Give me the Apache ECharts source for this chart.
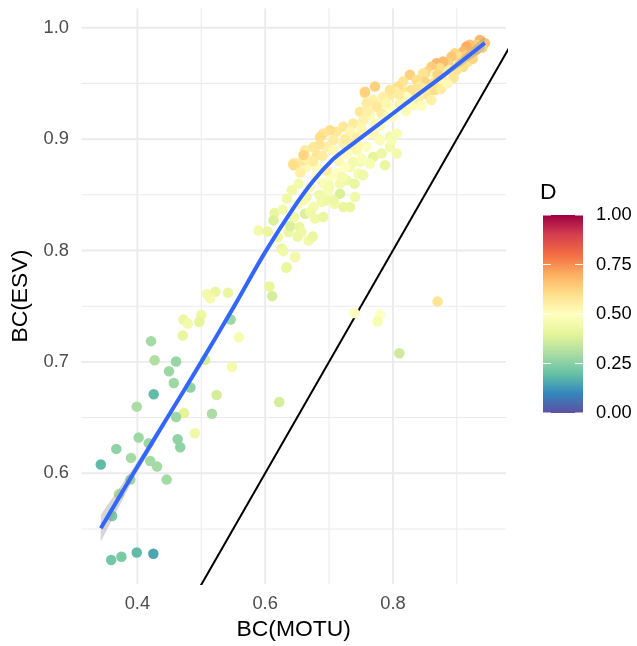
<!DOCTYPE html>
<html>
<head>
<meta charset="utf-8">
<script src="https://cdn.jsdelivr.net/npm/echarts@6/dist/echarts.min.js"></script>
<style>
  html, body { margin: 0; padding: 0; background: #ffffff; }
  #chart { width: 637px; height: 646px; }
</style>
</head>
<body>
<div id="chart"></div>
<script>
// Bray-Curtis similarity: OTU-based (MOTU) vs ESV-based, coloured by D
const bc_motu = [
  0.6067, 0.611, 0.509, 0.522, 0.514, 0.542, 0.472, 0.479, 0.5, 0.497,
  0.546, 0.471, 0.559, 0.4214, 0.7395, 0.78, 0.776, 0.87, 0.81, 0.427,
  0.4605, 0.506, 0.548, 0.4495, 0.457, 0.483, 0.4255, 0.524, 0.622, 0.399,
  0.473, 0.4605, 0.5167, 0.49, 0.402, 0.4177, 0.463, 0.467, 0.367, 0.39,
  0.3427, 0.42, 0.4308, 0.389, 0.4458, 0.371, 0.3605, 0.359, 0.375, 0.399, 0.425,
  0.5896, 0.604, 0.6145, 0.613, 0.6276, 0.6365, 0.639, 0.6536, 0.657, 0.651,
  0.668, 0.6745, 0.626, 0.6468, 0.634, 0.6523, 0.6417, 0.634, 0.652, 0.67,
  0.665, 0.6625, 0.678, 0.691, 0.6755, 0.6886, 0.699, 0.6964, 0.717, 0.709,
  0.7224, 0.733, 0.7406, 0.691, 0.7016, 0.717, 0.7276, 0.7458, 0.7536, 0.712,
  0.7328, 0.7484, 0.644, 0.665, 0.681, 0.6964, 0.66, 0.6703, 0.7068, 0.6286,
  0.6328, 0.647,
  0.7719, 0.756, 0.816, 0.8266, 0.8058, 0.7953, 0.8214, 0.8344, 0.7692, 0.7849,
  0.7745, 0.7589, 0.7484, 0.7641, 0.7823, 0.7953, 0.811, 0.7536, 0.7719, 0.738,
  0.7224, 0.733, 0.7432, 0.7589, 0.712, 0.7016, 0.691, 0.7068, 0.7224, 0.6964,
  0.6755, 0.6625, 0.681, 0.665, 0.6495, 0.7068, 0.7432, 0.7589, 0.7797, 0.7953,
  0.8058, 0.7953, 0.8058, 0.7875, 0.7692, 0.7276, 0.738, 0.7641, 0.7511, 0.6443,
  0.66, 0.686, 0.7562, 0.7823, 0.798,
  0.9438, 0.936, 0.9308, 0.9203, 0.915, 0.9255, 0.91, 0.897, 0.9047, 0.8917,
  0.9177, 0.9047, 0.8864, 0.8786, 0.8683, 0.8734, 0.8605, 0.889, 0.855, 0.8473,
  0.8656, 0.876, 0.8786, 0.863, 0.85, 0.837, 0.8422, 0.829, 0.816, 0.8083,
  0.803, 0.7953, 0.8214, 0.8136, 0.8317, 0.7849, 0.79, 0.8396, 0.855, 0.8656,
  0.8, 0.82, 0.845, 0.86, 0.875, 0.895, 0.91, 0.925, 0.885, 0.77,
  0.78, 0.745, 0.725, 0.715, 0.735, 0.69, 0.68, 0.7, 0.76, 0.79,
  0.81, 0.835, 0.85, 0.87, 0.9, 0.915, 0.93, 0.94, 0.725, 0.75,
  0.655, 0.675, 0.685, 0.62, 0.645, 0.66, 0.685, 0.72, 0.74
];
const bc_esv = [
  0.7676, 0.759, 0.761, 0.763, 0.757, 0.762, 0.738, 0.7345, 0.742, 0.736,
  0.738, 0.7237, 0.722, 0.7186, 0.7439, 0.7423, 0.7363, 0.7543, 0.7078, 0.7015,
  0.7003, 0.7018, 0.6955, 0.6916, 0.681, 0.677, 0.671, 0.6703, 0.664, 0.6598,
  0.654, 0.6505, 0.6534, 0.636, 0.632, 0.627, 0.6306, 0.6234, 0.6219, 0.6138,
  0.6078, 0.611, 0.606, 0.5943, 0.5943, 0.5814, 0.5616, 0.5222, 0.525, 0.5288, 0.5277,
  0.818, 0.817, 0.8336, 0.827, 0.8367, 0.8165, 0.8219, 0.821, 0.8165, 0.8126,
  0.809, 0.8126, 0.8015, 0.794, 0.785, 0.86, 0.854, 0.8466, 0.842, 0.857,
  0.848, 0.833, 0.8286, 0.83, 0.839, 0.8435, 0.854, 0.845, 0.851, 0.842,
  0.839, 0.839, 0.848, 0.86, 0.866, 0.86, 0.863, 0.869, 0.8676, 0.869,
  0.875, 0.8796, 0.878, 0.875, 0.875, 0.872, 0.881, 0.8345, 0.845, 0.7994,
  0.7844, 0.7946,
  0.9471, 0.941, 0.9516, 0.9577, 0.9457, 0.9396, 0.9426, 0.941, 0.935, 0.9336,
  0.929, 0.9321, 0.9246, 0.9216, 0.9231, 0.929, 0.932, 0.917, 0.914, 0.914,
  0.911, 0.9066, 0.902, 0.905, 0.9066, 0.908, 0.905, 0.899, 0.896, 0.893,
  0.893, 0.89, 0.8856, 0.8826, 0.878, 0.89, 0.89, 0.893, 0.899, 0.902,
  0.905, 0.893, 0.887, 0.8766, 0.884, 0.887, 0.8796, 0.878, 0.8826, 0.8766,
  0.8856, 0.902, 0.9426, 0.887, 0.899,
  0.9862, 0.989, 0.9847, 0.9847, 0.983, 0.977, 0.9787, 0.977, 0.974, 0.974,
  0.9697, 0.968, 0.968, 0.9697, 0.968, 0.9637, 0.965, 0.962, 0.9606, 0.9592,
  0.9577, 0.9547, 0.9486, 0.95, 0.9516, 0.953, 0.9471, 0.944, 0.9516, 0.9471,
  0.9426, 0.944, 0.9381, 0.9336, 0.9306, 0.9381, 0.932, 0.9367, 0.9396, 0.944,
  0.92, 0.925, 0.93, 0.935, 0.945, 0.955, 0.965, 0.972, 0.95, 0.905,
  0.912, 0.895, 0.875, 0.88, 0.895, 0.885, 0.865, 0.858, 0.925, 0.92,
  0.94, 0.945, 0.945, 0.958, 0.962, 0.975, 0.98, 0.982, 0.9, 0.91,
  0.87, 0.88, 0.895, 0.812, 0.83, 0.845, 0.85, 0.866, 0.86
];
const d_value = [
  0.41, 0.37, 0.45, 0.42, 0.45, 0.42, 0.43, 0.45, 0.43, 0.4,
  0.28, 0.41, 0.46, 0.29, 0.5, 0.5, 0.47, 0.58, 0.36, 0.31,
  0.27, 0.37, 0.45, 0.28, 0.28, 0.26, 0.19, 0.37, 0.37, 0.3,
  0.4, 0.28, 0.3, 0.44, 0.28, 0.28, 0.26, 0.26, 0.26, 0.29,
  0.19, 0.29, 0.29, 0.28, 0.29, 0.32, 0.23, 0.22, 0.23, 0.19, 0.15,
  0.45, 0.42, 0.42, 0.38, 0.45, 0.42, 0.38, 0.42, 0.44, 0.43,
  0.45, 0.42, 0.42, 0.42, 0.43, 0.45, 0.44, 0.44, 0.47, 0.47,
  0.45, 0.38, 0.44, 0.42, 0.46, 0.45, 0.47, 0.44, 0.38, 0.45,
  0.42, 0.41, 0.44, 0.48, 0.5, 0.45, 0.44, 0.46, 0.44, 0.5,
  0.47, 0.45, 0.57, 0.52, 0.5, 0.55, 0.58, 0.44, 0.43, 0.44,
  0.42, 0.45,
  0.63, 0.58, 0.52, 0.63, 0.57, 0.56, 0.58, 0.55, 0.55, 0.54,
  0.57, 0.56, 0.57, 0.48, 0.56, 0.5, 0.55, 0.54, 0.52, 0.56,
  0.57, 0.53, 0.55, 0.5, 0.57, 0.6, 0.58, 0.56, 0.54, 0.55,
  0.57, 0.56, 0.58, 0.55, 0.57, 0.52, 0.47, 0.5, 0.48, 0.45,
  0.47, 0.45, 0.45, 0.42, 0.4, 0.5, 0.45, 0.47, 0.48, 0.6,
  0.62, 0.6, 0.63, 0.43, 0.47,
  0.66, 0.68, 0.64, 0.66, 0.7, 0.6, 0.68, 0.62, 0.6, 0.65,
  0.58, 0.62, 0.63, 0.67, 0.68, 0.6, 0.64, 0.55, 0.62, 0.58,
  0.52, 0.58, 0.52, 0.6, 0.62, 0.6, 0.57, 0.6, 0.58, 0.6,
  0.55, 0.58, 0.5, 0.52, 0.48, 0.55, 0.53, 0.55, 0.58, 0.6,
  0.5, 0.48, 0.5, 0.55, 0.56, 0.58, 0.6, 0.62, 0.52, 0.52,
  0.5, 0.52, 0.5, 0.52, 0.55, 0.56, 0.5, 0.46, 0.55, 0.52,
  0.56, 0.58, 0.56, 0.62, 0.58, 0.64, 0.66, 0.62, 0.56, 0.53,
  0.55, 0.56, 0.58, 0.43, 0.44, 0.46, 0.44, 0.46, 0.42
];

// LOESS fit with its confidence band
const loess_x  = [0.3427, 0.3938, 0.447, 0.5, 0.552, 0.6, 0.6442, 0.6755, 0.7067, 0.7277, 0.7589, 0.8005, 0.8317, 0.8839, 0.9438];
const loess_y  = [0.5507, 0.6, 0.65, 0.7, 0.7505, 0.7985, 0.838, 0.8625, 0.8822, 0.8916, 0.9051, 0.9232, 0.9367, 0.9592, 0.9862];
const loess_lo = [0.5387, 0.595, 0.647, 0.698, 0.7485, 0.7965, 0.836, 0.8605, 0.8802, 0.8896, 0.9031, 0.9212, 0.9347, 0.9567, 0.9802];
const loess_hi = [0.5627, 0.605, 0.653, 0.702, 0.7525, 0.8005, 0.840, 0.8645, 0.8842, 0.8936, 0.9071, 0.9252, 0.9387, 0.9617, 0.9922];

// 1:1 reference line
const identity_ends = [0.45, 1.05];

// Axis breaks
const x_major = [0.4, 0.6, 0.8];
const x_minor = [0.5, 0.7, 0.9];
const y_major = [0.6, 0.7, 0.8, 0.9, 1.0];
const y_minor = [0.55, 0.65, 0.75, 0.85, 0.95];
const legend_breaks = [0, 0.25, 0.5, 0.75, 1];

const spectral = ['#5E4FA2', '#3288BD', '#66C2A5', '#ABDDA4', '#E6F598', '#FFFFBF',
                  '#FEE08B', '#FDAE61', '#F46D43', '#D53E4F', '#9E0142'];

const FONT = '"Liberation Sans", Arial, sans-serif';
const GRID = { left: 81.5, right: 131, top: 8.3, bottom: 62 };
const X_RANGE = [0.3125, 0.977];
const Y_RANGE = [0.5006, 1.0174];

const points = bc_motu.map((x, i) => [x, bc_esv[i], d_value[i]]);
const fitLine = loess_x.map((x, i) => [x, loess_y[i]]);

// Panel grid lines: [axis, value, width]
const gridSpecs = [];
x_major.forEach(v => gridSpecs.push(['x', v, 1.9]));
x_minor.forEach(v => gridSpecs.push(['x', v, 1.1]));
y_major.forEach(v => gridSpecs.push(['y', v, 1.9]));
y_minor.forEach(v => gridSpecs.push(['y', v, 1.1]));

// Colour bar legend
const BAR = { x: 543, y: 215, w: 40, h: 198 };
const legendGraphics = [
  { type: 'text', left: 540, top: 181, style: { text: 'D', font: '22.9px ' + FONT, fill: '#000000' } },
  {
    type: 'rect', shape: { x: BAR.x, y: BAR.y, width: BAR.w, height: BAR.h },
    style: {
      fill: {
        type: 'linear', x: 0, y: 1, x2: 0, y2: 0,
        colorStops: spectral.map((c, i) => ({ offset: i / (spectral.length - 1), color: c }))
      }
    }
  }
];
legend_breaks.forEach(v => {
  const yy = BAR.y + BAR.h * (1 - v);
  legendGraphics.push({ type: 'line', shape: { x1: BAR.x, y1: yy, x2: BAR.x + 8, y2: yy }, style: { stroke: '#ffffff', lineWidth: 1 } });
  legendGraphics.push({ type: 'line', shape: { x1: BAR.x + BAR.w - 8, y1: yy, x2: BAR.x + BAR.w, y2: yy }, style: { stroke: '#ffffff', lineWidth: 1 } });
  legendGraphics.push({
    type: 'text', x: 596, y: yy,
    style: { text: v.toFixed(2), font: '18.3px ' + FONT, fill: '#000000', verticalAlign: 'middle', align: 'left' }
  });
});

const chart = echarts.init(document.getElementById('chart'), null, { renderer: 'canvas' });
chart.setOption({
  animation: false,
  backgroundColor: '#ffffff',
  textStyle: { fontFamily: FONT },
  grid: GRID,
  xAxis: {
    type: 'value', min: X_RANGE[0], max: X_RANGE[1],
    axisLine: { show: false }, axisTick: { show: false }, splitLine: { show: false },
    axisLabel: {
      customValues: x_major, formatter: v => v.toFixed(1),
      color: '#4D4D4D', fontSize: 18.3, fontFamily: FONT, margin: 11
    },
    name: 'BC(MOTU)', nameLocation: 'middle', nameGap: 34,
    nameTextStyle: { color: '#000000', fontSize: 22.9, fontFamily: FONT }
  },
  yAxis: {
    type: 'value', min: Y_RANGE[0], max: Y_RANGE[1],
    axisLine: { show: false }, axisTick: { show: false }, splitLine: { show: false },
    axisLabel: {
      customValues: y_major, formatter: v => v.toFixed(1),
      color: '#4D4D4D', fontSize: 18.3, fontFamily: FONT, margin: 12.5
    },
    name: 'BC(ESV)', nameLocation: 'middle', nameGap: 48, nameRotate: 90,
    nameTextStyle: { color: '#000000', fontSize: 22.9, fontFamily: FONT }
  },
  visualMap: {
    show: false, type: 'continuous', seriesIndex: 2, dimension: 2,
    min: 0, max: 1, inRange: { color: spectral }
  },
  graphic: legendGraphics,
  series: [
    {
      name: 'grid', type: 'custom', z: 0, silent: true, clip: true,
      data: gridSpecs.map((g, i) => i),
      renderItem: (params, api) => {
        const g = gridSpecs[params.dataIndex];
        const a = g[0] === 'x' ? api.coord([g[1], Y_RANGE[0]]) : api.coord([X_RANGE[0], g[1]]);
        const b = g[0] === 'x' ? api.coord([g[1], Y_RANGE[1]]) : api.coord([X_RANGE[1], g[1]]);
        return {
          type: 'line', shape: { x1: a[0], y1: a[1], x2: b[0], y2: b[1] },
          style: { stroke: '#EBEBEB', lineWidth: g[2] }
        };
      }
    },
    {
      name: 'identity', type: 'line', z: 1, showSymbol: false, silent: true,
      data: identity_ends.map(v => [v, v]),
      lineStyle: { color: '#000000', width: 2 }
    },
    {
      name: 'samples', type: 'scatter', z: 2, symbol: 'circle', symbolSize: 10.5,
      data: points, itemStyle: { opacity: 1 }, silent: true
    },
    {
      name: 'band', type: 'custom', z: 3, silent: true, clip: true,
      data: [0],
      renderItem: (params, api) => {
        const pts = [];
        loess_x.forEach((x, i) => pts.push(api.coord([x, loess_hi[i]])));
        for (let i = loess_x.length - 1; i >= 0; i--) pts.push(api.coord([loess_x[i], loess_lo[i]]));
        return { type: 'polygon', shape: { points: pts }, style: { fill: 'rgba(153,153,153,0.4)' } };
      }
    },
    {
      name: 'loess', type: 'line', z: 4, showSymbol: false, silent: true, smooth: 0.35,
      data: fitLine, lineStyle: { color: '#3366FF', width: 4 }
    }
  ]
});
</script>
</body>
</html>
